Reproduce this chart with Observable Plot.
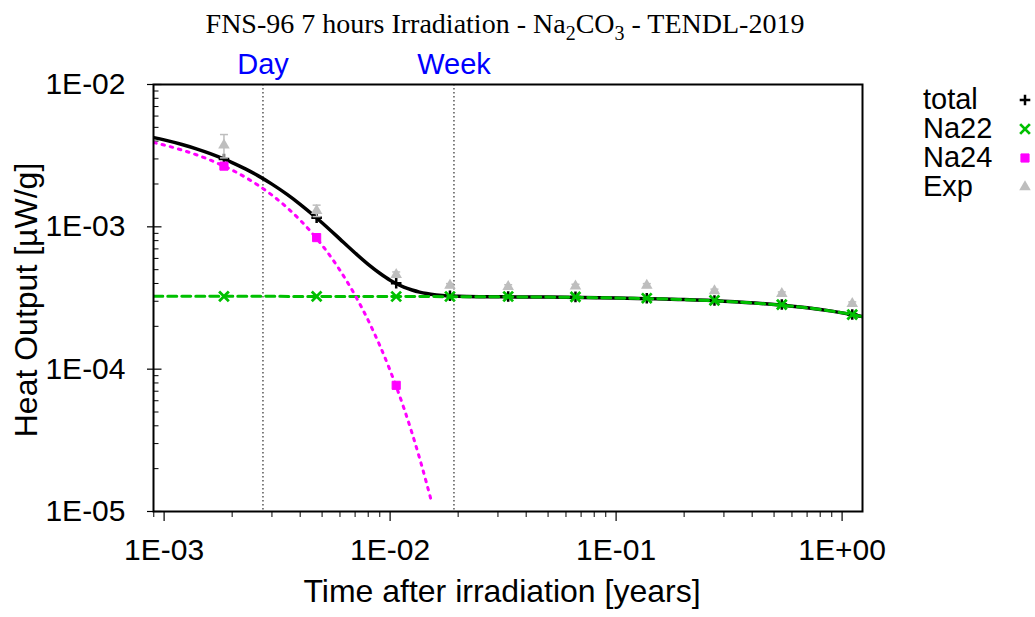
<!DOCTYPE html>
<html><head><meta charset="utf-8">
<script src="https://cdn.jsdelivr.net/npm/d3@7"></script>
<script src="https://cdn.jsdelivr.net/npm/@observablehq/plot@0.6"></script>
<style>body{margin:0;background:#fff;} svg{display:block}</style>
</head><body><div id="chart"></div>
<script>
// ---- data ----
const pointTimes = [1.84e-3, 4.73e-3, 1.064e-2, 1.84e-2, 3.33e-2, 6.61e-2, 0.1367, 0.2724, 0.541, 1.109];
const totalPts   = [3.0e-3, 1.16e-3, 4.02e-4, 3.28e-4, 3.24e-4, 3.22e-4, 3.15e-4, 3.04e-4, 2.85e-4, 2.42e-4];
const na22Pts    = [3.25e-4, 3.25e-4, 3.24e-4, 3.24e-4, 3.24e-4, 3.22e-4, 3.15e-4, 3.04e-4, 2.84e-4, 2.42e-4];
const na24PtTimes = [1.84e-3, 4.73e-3, 1.064e-2];
const na24Pts    = [2.67e-3, 8.4e-4, 7.7e-5];
const expVals    = [3.75e-3, 1.30e-3, 4.62e-4, 3.87e-4, 3.80e-4, 3.83e-4, 3.87e-4, 3.54e-4, 3.39e-4, 2.88e-4];
const expErr     = [0.70e-3, 0.12e-3, 0.02e-3, 0.012e-3, 0.012e-3, 0.012e-3, 0.012e-3, 0.011e-3, 0.010e-3, 0.009e-3];

const totalTimes = [9.0e-4, 1.0e-3, 1.2e-3, 1.4e-3, 1.6e-3, 1.84e-3, 2.0e-3, 2.3e-3, 2.6e-3, 3.0e-3, 3.5e-3, 4.0e-3, 4.73e-3, 5.5e-3, 6.0e-3, 7.0e-3, 8.0e-3, 9.0e-3, 1.0e-2, 1.064e-2, 1.15e-2, 1.25e-2, 1.35e-2, 1.45e-2, 1.6e-2, 1.8e-2, 2.0e-2, 2.5e-2, 5e-2, 0.1, 0.2, 0.3, 0.5, 0.7, 0.9, 1.1, 1.24];
const totalCurve = [4.235e-3, 4.08e-3, 3.787e-3, 3.518e-3, 3.27e-3, 2.996e-3, 2.829e-3, 2.543e-3, 2.289e-3, 1.995e-3, 1.689e-3, 1.439e-3, 1.154e-3, 9.32e-4, 8.20e-4, 6.55e-4, 5.45e-4, 4.72e-4, 4.22e-4, 4.0e-4, 3.77e-4, 3.60e-4, 3.48e-4, 3.40e-4, 3.326e-4, 3.27e-4, 3.25e-4, 3.23e-4, 3.21e-4, 3.164e-4, 3.081e-4, 3.0e-4, 2.844e-4, 2.697e-4, 2.557e-4, 2.424e-4, 2.335e-4];

const na22Times = [9e-4, 1e-2, 2e-2, 5e-2, 0.1, 0.2, 0.3, 0.5, 0.7, 0.9, 1.1, 1.24];
const na22Curve = [3.25e-4, 3.24e-4, 3.23e-4, 3.21e-4, 3.164e-4, 3.081e-4, 3.0e-4, 2.844e-4, 2.697e-4, 2.557e-4, 2.424e-4, 2.335e-4];

const na24Times = [9.0e-4, 1.0e-3, 1.2e-3, 1.4e-3, 1.6e-3, 1.84e-3, 2.0e-3, 2.3e-3, 2.6e-3, 3.0e-3, 3.5e-3, 4.0e-3, 4.73e-3, 5.5e-3, 6.0e-3, 7.0e-3, 8.0e-3, 9.0e-3, 1.0e-2, 1.064e-2, 1.15e-2, 1.25e-2, 1.35e-2, 1.45e-2, 1.525e-2];
const na24Curve = [3.91e-3, 3.755e-3, 3.462e-3, 3.193e-3, 2.945e-3, 2.671e-3, 2.504e-3, 2.218e-3, 1.964e-3, 1.670e-3, 1.364e-3, 1.114e-3, 8.29e-4, 6.07e-4, 4.95e-4, 3.30e-4, 2.203e-4, 1.469e-4, 9.80e-5, 7.56e-5, 5.34e-5, 3.56e-5, 2.37e-5, 1.58e-5, 1.17e-5];

const markerTimes = [2.738e-3, 1.917e-2];
const markerLabels = ["Day", "Week"];

const xMajor = [1e-3, 1e-2, 1e-1, 1];
const xTickLabels = ["1E-03", "1E-02", "1E-01", "1E+00"];
const yMajor = [1e-5, 1e-4, 1e-3, 1e-2];
const yTickLabels = ["1E-05", "1E-04", "1E-03", "1E-02"];
const minorMult = [2, 3, 4, 5, 6, 7, 8, 9];

const legendLabels = ["total", "Na22", "Na24", "Exp"];
const titleParts = ["FNS-96 7 hours Irradiation - Na", "2", "CO", "3", " - TENDL-2019"];
const xLabel = "Time after irradiation [years]";
const yLabel = "Heat Output [\u00b5W/g]";

// ---- styling ----
const GREEN = "#00c000", MAGENTA = "#ff00ff", GREY = "#bebebe", BLUE = "#0000ff";

const xMinor = [];
for (const d of [1e-3, 1e-2, 1e-1, 1]) for (const m of minorMult) { const v = d * m; if (v <= 1.231) xMinor.push(v); }
xMinor.push(9e-4);
const yMinor = [];
for (const d of [1e-5, 1e-4, 1e-3]) for (const m of minorMult) yMinor.push(d * m);

const xLabMap = new Map(xMajor.map((d, i) => [d, xTickLabels[i]]));
const yLabMap = new Map(yMajor.map((d, i) => [d, yTickLabels[i]]));

const totalLine = totalTimes.map((t, i) => ({t, v: totalCurve[i]}));
const na22Line = na22Times.map((t, i) => ({t, v: na22Curve[i]}));
const na24Line = na24Times.map((t, i) => ({t, v: na24Curve[i]}));
const totalP = pointTimes.map((t, i) => ({t, v: totalPts[i]}));
const na22P = pointTimes.map((t, i) => ({t, v: na22Pts[i]}));
const na24P = na24PtTimes.map((t, i) => ({t, v: na24Pts[i]}));
const expP = pointTimes.map((t, i) => ({t, v: expVals[i], lo: expVals[i] - expErr[i], hi: expVals[i] + expErr[i]}));

const tickIn = {draw(ctx, size) { ctx.moveTo(0, 0); ctx.lineTo(5, 0); }};
const tickInMajor = {draw(ctx, size) { ctx.moveTo(0, 0); ctx.lineTo(8, 0); }};
const capSym = {draw(ctx, size) { ctx.moveTo(-4, 0); ctx.lineTo(4, 0); }};

const plot = Plot.plot({
  width: 1035, height: 617,
  marginLeft: 153, marginRight: 173, marginTop: 84, marginBottom: 106,
  x: {type: "log", domain: [8.975e-4, 1.231]},
  y: {type: "log", domain: [1e-5, 1e-2]},
  style: {fontFamily: "'Liberation Sans', Arial, sans-serif", fontSize: "30px", background: "white", color: "black", overflow: "visible"},
  marks: [
    Plot.axisX(xMinor, {tickSize: 6, tickFormat: () => "", label: null, strokeWidth: 1}),
    Plot.axisX(xMajor, {tickSize: 10, tickPadding: 17, tickFormat: d => xLabMap.get(d), label: null, strokeWidth: 1.2, fontSize: 30}),
    Plot.axisY(yMajor, {tickSize: 6, tickPadding: 22, tickFormat: d => yLabMap.get(d), label: null, strokeWidth: 1.2, fontSize: 30}),
    Plot.dot(yMinor, {y: d => d, frameAnchor: "left", symbol: tickIn, fill: "none", stroke: "black", strokeWidth: 1, r: 3}),
    Plot.dot(yMajor, {y: d => d, frameAnchor: "left", symbol: tickInMajor, fill: "none", stroke: "black", strokeWidth: 1.2, r: 3}),
    Plot.ruleX(markerTimes, {x: d => d, stroke: "black", strokeWidth: 1, strokeDasharray: "1.5,2.5"}),
    Plot.text(markerLabels, {x: (d, i) => markerTimes[i], text: d => d, frameAnchor: "top", lineAnchor: "bottom", dy: -11, fill: BLUE, fontSize: 29}),
    Plot.line(totalLine, {x: "t", y: "v", stroke: "black", strokeWidth: 3.5, curve: "monotone-x", clip: true}),
    Plot.dot(totalP, {x: "t", y: "v", symbol: "plus", r: 3.5, stroke: "black", strokeWidth: 2.5}),
    Plot.line(na22Line, {x: "t", y: "v", stroke: GREEN, strokeWidth: 3, strokeDasharray: "9,5", curve: "monotone-x", clip: true}),
    Plot.dot(na22P, {x: "t", y: "v", symbol: "times", r: 4.5, stroke: GREEN, strokeWidth: 2.8}),
    Plot.line(na24Line, {x: "t", y: "v", stroke: MAGENTA, strokeWidth: 3, strokeDasharray: "2.5,6", curve: "monotone-x", clip: true}),
    Plot.dot(na24P, {x: "t", y: "v", symbol: "square", r: 4.6, fill: MAGENTA, stroke: MAGENTA, strokeWidth: 1}),
    Plot.ruleX(expP, {x: "t", y1: "lo", y2: "hi", stroke: GREY, strokeWidth: 1.5}),
    Plot.dot(expP, {x: "t", y: "hi", symbol: capSym, fill: "none", stroke: GREY, strokeWidth: 1.5, r: 3}),
    Plot.dot(expP, {x: "t", y: "lo", symbol: capSym, fill: "none", stroke: GREY, strokeWidth: 1.5, r: 3}),
    Plot.dot(expP, {x: "t", y: "v", symbol: "triangle", r: 4.3, fill: GREY, stroke: "none"}),
    Plot.frame({stroke: "black", strokeWidth: 2})
  ]
});

const svg = d3.select(plot);
// title
const title = svg.append("text").attr("x", 505).attr("y", 33).attr("text-anchor", "middle")
  .style("font-family", "'Liberation Serif', 'Times New Roman', serif").style("font-size", "28px").attr("fill", "black");
title.append("tspan").text(titleParts[0]);
title.append("tspan").attr("dy", 7).style("font-size", "20px").text(titleParts[1]);
title.append("tspan").attr("dy", -7).text(titleParts[2]);
title.append("tspan").attr("dy", 7).style("font-size", "20px").text(titleParts[3]);
title.append("tspan").attr("dy", -7).text(titleParts[4]);

// axis labels
svg.append("text").attr("x", 502).attr("y", 602).attr("text-anchor", "middle")
  .style("font-family", "'Liberation Sans', Arial, sans-serif").style("font-size", "32px").text(xLabel);
svg.append("text").attr("transform", "translate(37,300) rotate(-90)").attr("text-anchor", "middle")
  .style("font-family", "'Liberation Sans', Arial, sans-serif").style("font-size", "32px").text(yLabel);

// legend
const legY = [109, 138, 167, 196];
const lg = svg.append("g").attr("text-anchor", "start").style("font-family", "'Liberation Sans', Arial, sans-serif").style("font-size", "29px");
legendLabels.forEach((l, i) => lg.append("text").attr("x", 923).attr("y", legY[i]).attr("text-anchor", "start").text(l));
const mx = 1025;
lg.append("path").attr("transform", `translate(${mx},${legY[0] - 9})`).attr("d", d3.symbol(d3.symbolPlus, 3.5 * 3.5 * Math.PI)()).attr("fill", "none").attr("stroke", "black").attr("stroke-width", 2.5);
lg.append("path").attr("transform", `translate(${mx},${legY[1] - 9})`).attr("d", d3.symbol(d3.symbolTimes, 4.5 * 4.5 * Math.PI)()).attr("fill", "none").attr("stroke", GREEN).attr("stroke-width", 2.8);
lg.append("path").attr("transform", `translate(${mx},${legY[2] - 9})`).attr("d", d3.symbol(d3.symbolSquare, 4.6 * 4.6 * Math.PI)()).attr("fill", MAGENTA).attr("stroke", MAGENTA).attr("stroke-width", 1);
lg.append("path").attr("transform", `translate(${mx},${legY[3] - 9})`).attr("d", d3.symbol(d3.symbolTriangle, 4.3 * 4.3 * Math.PI)()).attr("fill", GREY);

document.getElementById("chart").appendChild(plot);
</script>
</body></html>
